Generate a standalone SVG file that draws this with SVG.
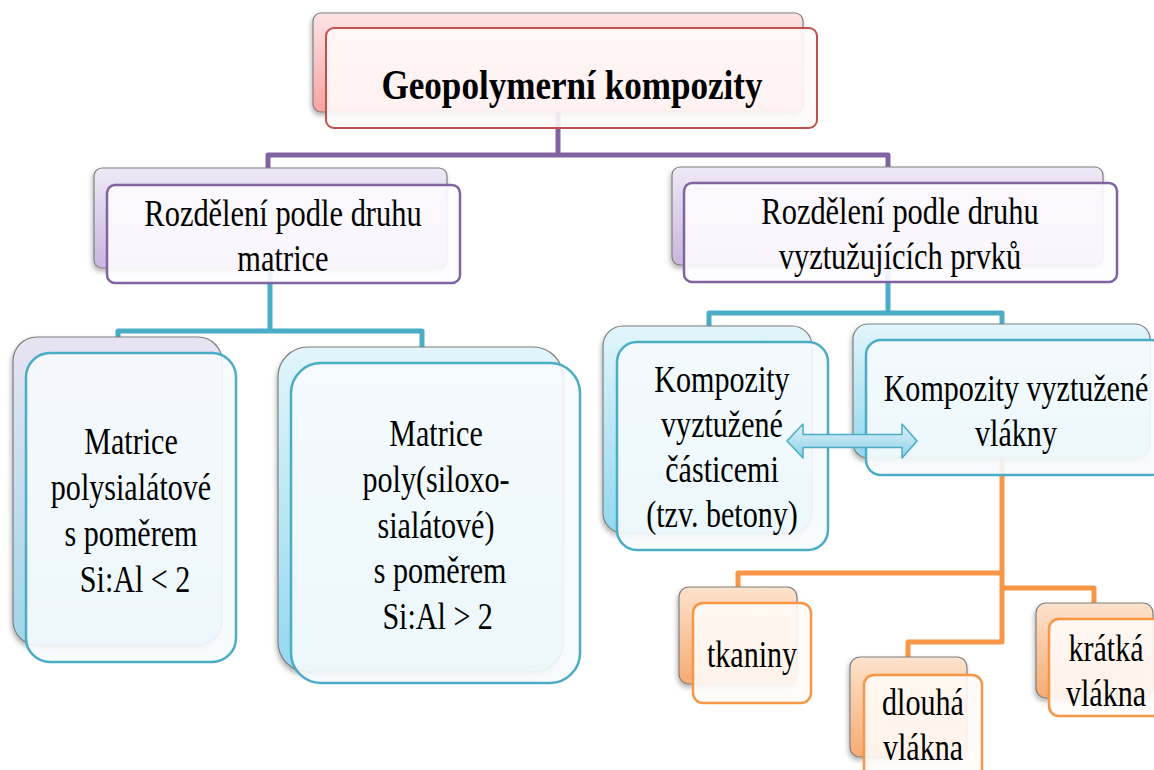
<svg xmlns="http://www.w3.org/2000/svg" width="1154" height="770" viewBox="0 0 1154 770">
<defs>
<style>
text{font-family:'Liberation Serif','Times New Roman',serif;fill:#000;text-anchor:middle}
.t{font-size:37px}
.tt{font-size:42px;font-weight:bold}
.back{stroke:#7f7f7f;stroke-width:1.2;filter:url(#sh)}
.fr{stroke-width:2.5;fill-opacity:0.9}
.red{fill:#fffafa;stroke:#c0504d;stroke-width:2}
.pur{fill:#fdfcff;stroke:#8064a2}
.teal{fill:#f6fbfd;stroke:#4bacc6}
.ora{fill:#fffbf7;stroke:#f79646}
.con{fill:none;stroke-width:5;stroke-linejoin:round}
</style>
<filter id="sh" x="-10%" y="-10%" width="120%" height="130%">
<feDropShadow dx="-1" dy="3" stdDeviation="2.5" flood-color="#000" flood-opacity="0.3"/>
</filter>
<linearGradient id="gPink" x1="0" y1="0" x2="0" y2="1"><stop offset="0" stop-color="#fde4e4"/><stop offset="1" stop-color="#f5a3a3"/></linearGradient>
<linearGradient id="gLav" x1="0" y1="0" x2="0" y2="1"><stop offset="0" stop-color="#efe9f6"/><stop offset="1" stop-color="#c8b6de"/></linearGradient>
<linearGradient id="gLavTeal" x1="0" y1="0" x2="0" y2="1"><stop offset="0" stop-color="#e8e3f2"/><stop offset="1" stop-color="#9fd6e8"/></linearGradient>
<linearGradient id="gCyan" x1="0" y1="0" x2="0" y2="1"><stop offset="0" stop-color="#e2f5fb"/><stop offset="1" stop-color="#92d8ee"/></linearGradient>
<linearGradient id="gOra" x1="0" y1="0" x2="0" y2="1"><stop offset="0" stop-color="#fde2cc"/><stop offset="1" stop-color="#f6ab72"/></linearGradient>
<linearGradient id="gArr" x1="0" y1="0" x2="0" y2="1"><stop offset="0" stop-color="#dff3fa"/><stop offset="1" stop-color="#8ccfe5"/></linearGradient>
</defs>
<rect width="1154" height="770" fill="#ffffff"/>

<g id="connectors">
<path class="con" stroke="#8064a2" d="M268,168 V155 H888 V167 M558,112 V155"/>
<path class="con" stroke="#4bacc6" d="M118,338 V331 H422 V347 M270,268 V331"/>
<path class="con" stroke="#4bacc6" d="M709,326 V313 H1002 V324 M888,265 V313"/>
<path class="con" stroke="#f79646" d="M1002,458 V642 H908 V658 M738,588 V573 H1002 M1002,588 H1094 V603"/>
</g>

<g id="node-geopolymer">
<rect class="back" x="313" y="13" width="490" height="99" rx="8" fill="url(#gPink)"/>
<rect class="fr red" x="326" y="28" width="491" height="100" rx="8"/>
<g transform="translate(572,0) scale(0.836,1)" font-family="Liberation Serif, serif"><text class="tt" x="0" y="99">Geopolymerní kompozity</text></g>
</g>

<g id="node-matrix">
<rect class="back" x="94" y="168" width="353" height="100" rx="8" fill="url(#gLav)"/>
<rect class="fr pur" x="107" y="185" width="353" height="98" rx="8"/>
<g transform="translate(283,0) scale(0.823,1)" font-family="Liberation Serif, serif">
<text class="t" x="0" y="226">Rozdělení podle druhu</text>
<text class="t" x="0" y="271">matrice</text>
</g>
</g>

<g id="node-reinforcement">
<rect class="back" x="672" y="167" width="431" height="98" rx="8" fill="url(#gLav)"/>
<rect class="fr pur" x="684" y="183" width="433" height="99" rx="8"/>
<g transform="translate(900,0) scale(0.823,1)" font-family="Liberation Serif, serif">
<text class="t" x="0" y="224">Rozdělení podle druhu</text>
<text class="t" x="0" y="269">vyztužujících prvků</text>
</g>
</g>

<g id="node-polysialate">
<rect class="back" x="13" y="337" width="209" height="308" rx="24" fill="url(#gLavTeal)"/>
<rect class="fr teal" x="26" y="353" width="210" height="309" rx="24"/>
<g transform="translate(131,0) scale(0.813,1)" font-family="Liberation Serif, serif">
<text class="t" x="0" y="454">Matrice</text>
<text class="t" x="0" y="500">polysialátové</text>
<text class="t" x="0" y="546">s poměrem</text>
<text class="t" x="5" y="592">Si:Al &lt; 2</text>
</g>
</g>

<g id="node-siloxo">
<rect class="back" x="278" y="347" width="285" height="325" rx="30" fill="url(#gCyan)"/>
<rect class="fr teal" x="291" y="363" width="289" height="320" rx="30"/>
<g transform="translate(436,0) scale(0.813,1)" font-family="Liberation Serif, serif">
<text class="t" x="0" y="446">Matrice</text>
<text class="t" x="0" y="492">poly(siloxo-</text>
<text class="t" x="0" y="538">sialátové)</text>
<text class="t" x="5" y="583">s poměrem</text>
<text class="t" x="2" y="629">Si:Al &gt; 2</text>
</g>
</g>

<g id="node-particles">
<rect class="back" x="603" y="326" width="209" height="207" rx="20" fill="url(#gCyan)"/>
<rect class="fr teal" x="617" y="342" width="211" height="208" rx="20"/>
<g transform="translate(722,0) scale(0.813,1)" font-family="Liberation Serif, serif">
<text class="t" x="0" y="392">Kompozity</text>
<text class="t" x="0" y="437">vyztužené</text>
<text class="t" x="0" y="482">částicemi</text>
<text class="t" x="0" y="527">(tzv. betony)</text>
</g>
</g>

<g id="node-fibers">
<rect class="back" x="853" y="324" width="297" height="134" rx="15" fill="url(#gCyan)"/>
<rect class="fr teal" x="866" y="340" width="300" height="135" rx="15"/>
<g transform="translate(1016,0) scale(0.813,1)" font-family="Liberation Serif, serif">
<text class="t" x="0" y="401">Kompozity vyztužené</text>
<text class="t" x="0" y="446">vlákny</text>
</g>
</g>

<g id="node-arrow">
<path d="M787,441 L803,424 V434.5 H902 V424 L917,441 L902,458 V447.5 H803 V458 Z" fill="url(#gArr)" stroke="#4bacc6" stroke-width="1.5" stroke-linejoin="round"/>
</g>

<g id="node-tkaniny">
<rect class="back" x="679" y="587" width="118" height="97" rx="10" fill="url(#gOra)"/>
<rect class="fr ora" x="693" y="603" width="118" height="100" rx="10"/>
<g transform="translate(752,0) scale(0.813,1)" font-family="Liberation Serif, serif"><text class="t" x="0" y="667">tkaniny</text></g>
</g>

<g id="node-dlouha">
<rect class="back" x="850" y="657" width="117" height="100" rx="10" fill="url(#gOra)"/>
<rect class="fr ora" x="864" y="675" width="118" height="110" rx="10"/>
<g transform="translate(923,0) scale(0.813,1)" font-family="Liberation Serif, serif">
<text class="t" x="0" y="715">dlouhá</text>
<text class="t" x="0" y="760">vlákna</text>
</g>
</g>

<g id="node-kratka">
<rect class="back" x="1036" y="603" width="117" height="95" rx="10" fill="url(#gOra)"/>
<rect class="fr ora" x="1049" y="619" width="120" height="97" rx="10"/>
<g transform="translate(1106,0) scale(0.813,1)" font-family="Liberation Serif, serif">
<text class="t" x="0" y="661">krátká</text>
<text class="t" x="0" y="706">vlákna</text>
</g>
</g>
</svg>
